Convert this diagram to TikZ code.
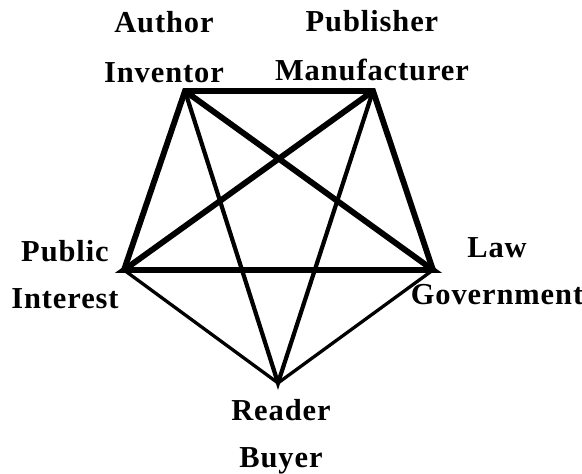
\documentclass[tikz,border=0pt]{standalone}
\usepackage{fontspec}
\newfontfamily\rolefont[LetterSpace=3]{Liberation Serif}
\usepackage{tikz}

\begin{document}
\begin{tikzpicture}[
  x=0.03cm, y=-0.03cm,
  role/.style={align=center, inner sep=0pt, anchor=base,
    font=\rolefont\bfseries\fontsize{26}{40}\selectfont},
  heavy/.style={line width=5pt, line join=miter},
  medium/.style={line width=3.6pt, line join=miter},
  light/.style={line width=2.8pt, line join=miter}
]
\useasboundingbox (0,0) rectangle (582,474);
\coordinate (author) at (185,91);
\coordinate (publisher) at (373,91);
\coordinate (public) at (124,270);
\coordinate (law) at (433,270);
\coordinate (reader) at (278,383);
\node[role] (lauthor) at (164,82) {Author\\[2.5pt]Inventor};
\node[role] (lpublisher) at (372,80) {Publisher\\[1.5pt]Manufacturer};
\node[role] (lpublic) at (65,308) {Public\\Interest};
\node[role] (llaw) at (497,304) {Law\\Government};
\node[role] (lreader) at (281,467) {Reader\\Buyer};
\draw[heavy] (public) -- (author) -- (publisher) -- (law);
\draw[heavy] (publisher) -- (public) -- (law) -- (author);
\draw[medium] (author) -- (reader) -- (publisher);
\draw[light] (public) -- (reader) -- (law);
\end{tikzpicture}
\end{document}
